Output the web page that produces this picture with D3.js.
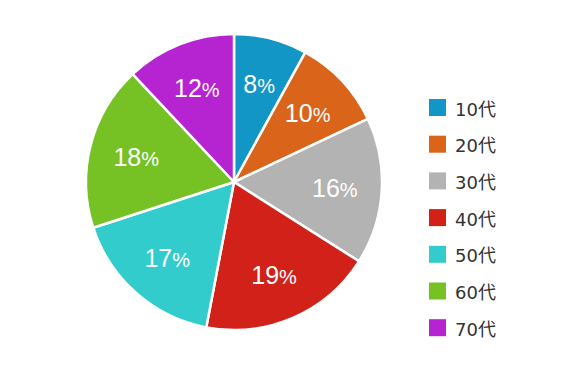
<!DOCTYPE html>
<html><head><meta charset="utf-8">
<script src="https://cdn.jsdelivr.net/npm/d3@7"></script>
<style>html,body{margin:0;padding:0;background:#fff;}svg{display:block;}</style>
</head><body>
<script>
const categories = ["10代","20代","30代","40代","50代","60代","70代"];
const values = [8,10,16,19,17,18,12];
const colors = ["#1196C6","#D9641A","#B3B3B3","#D12118","#33CCCC","#76C225","#B623D0"];

const W = 562, H = 370, cx = 234, cy = 182, R = 148, labelR = 101;
const svg = d3.select("body").append("svg").attr("width", W).attr("height", H);
const data = categories.map((c,i)=>({c, v: values[i], col: colors[i]}));
const pie = d3.pie().value(d=>d.v).sort(null);
const arc = d3.arc().innerRadius(0).outerRadius(R);
const labelArc = d3.arc().innerRadius(labelR).outerRadius(labelR);
const g = svg.append("g").attr("transform", `translate(${cx},${cy})`);
const arcs = pie(data);
g.selectAll("path").data(arcs).join("path")
  .attr("d", arc).attr("fill", d=>d.data.col)
  .attr("stroke", "#fff").attr("stroke-width", 2.5).attr("stroke-linejoin","round");
const t = g.selectAll("text").data(arcs).join("text")
  .attr("transform", d=>`translate(${labelArc.centroid(d)})`)
  .attr("text-anchor","middle").attr("y", 9)
  .attr("fill","#fff").style("font-family","'Liberation Sans', Arial, sans-serif");
t.append("tspan").style("font-size","25px").text(d=>d.data.v);
t.append("tspan").style("font-size","20px").text("%");

const lg = svg.append("g");
const rows = lg.selectAll("g").data(data).join("g")
  .attr("transform",(d,i)=>`translate(429,${99 + i*36.7})`);
rows.append("rect").attr("width",17).attr("height",17).attr("fill",d=>d.col);
rows.append("text").attr("x",26).attr("y",16.5)
  .attr("fill","#333").style("font-size","18px")
  .style("font-family","'DejaVu Sans', 'Noto Sans CJK JP', sans-serif").text(d=>d.c);
</script>
</body></html>
